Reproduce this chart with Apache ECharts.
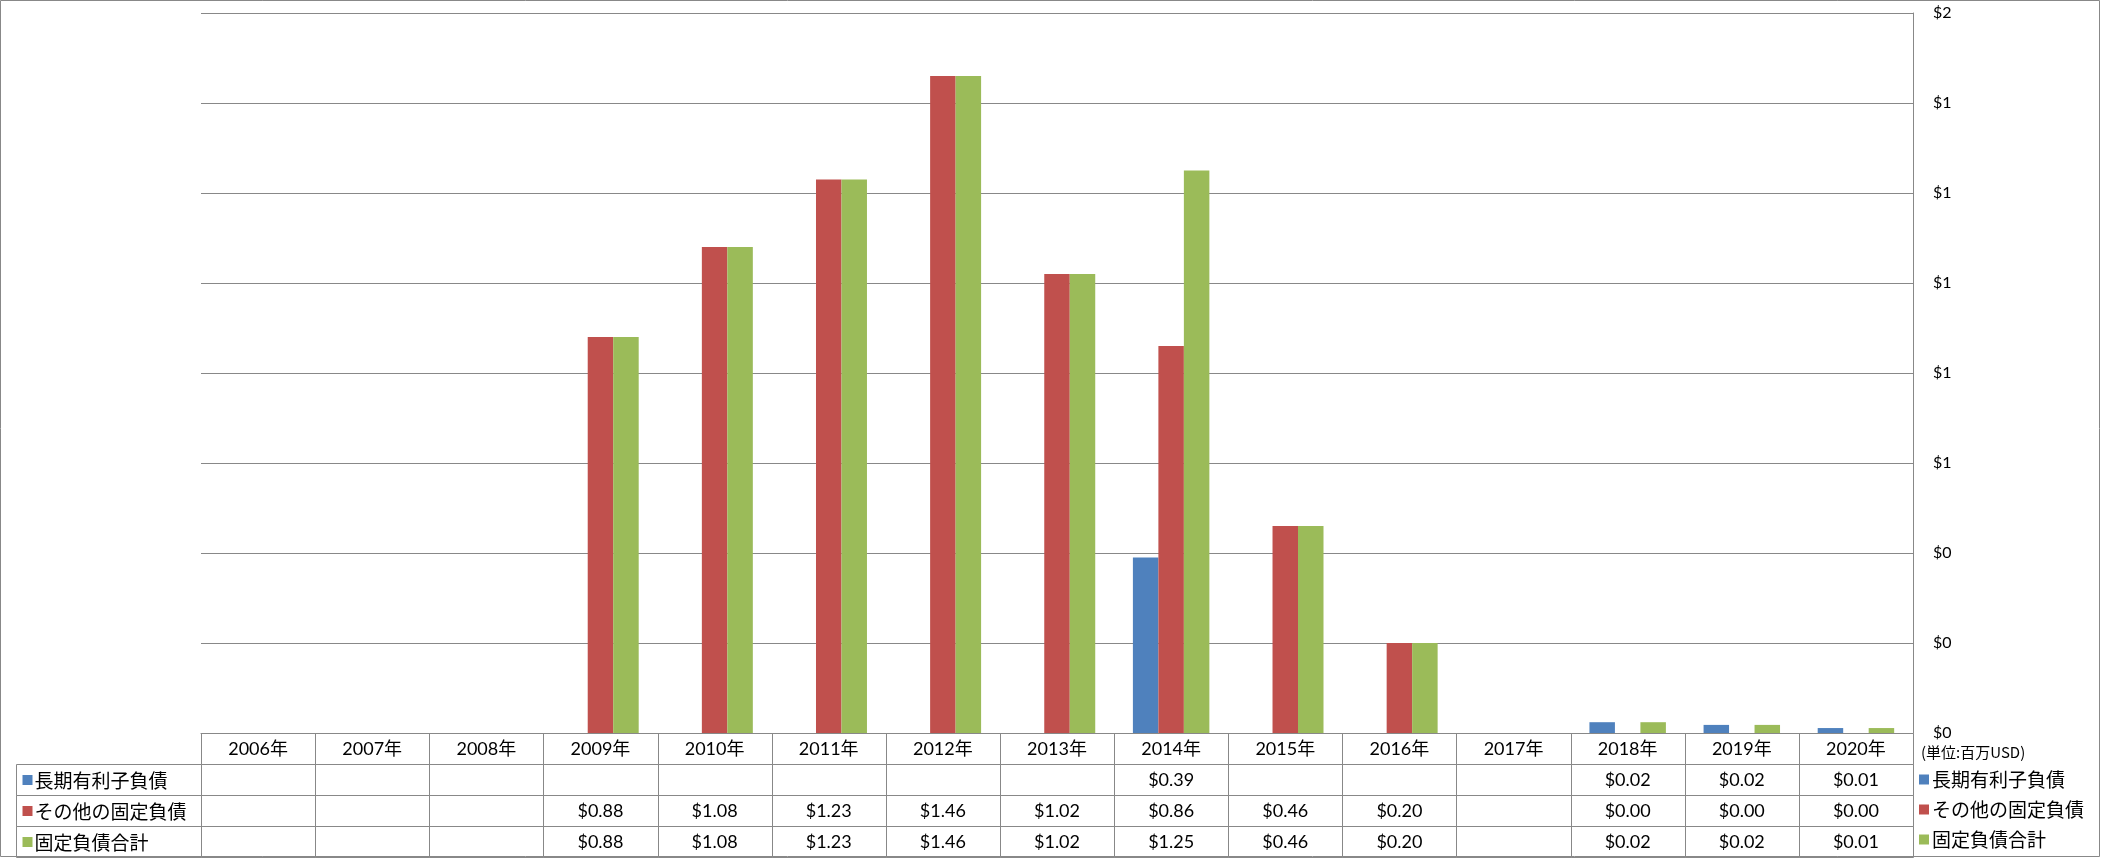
<!DOCTYPE html>
<html>
<head>
<meta charset="utf-8">
<script src="https://cdn.jsdelivr.net/npm/echarts@6/dist/echarts.min.js"></script>
<style>
html,body{margin:0;padding:0;background:#fff;}
#chart{width:2101px;height:858px;}
</style>
</head>
<body>
<div id="chart"></div>
<script>
// ---- data ----
const years = ['2006年','2007年','2008年','2009年','2010年','2011年','2012年','2013年','2014年','2015年','2016年','2017年','2018年','2019年','2020年'];
const seriesNames = ['長期有利子負債','その他の固定負債','固定負債合計'];
const longDebt  = [null,null,null,null,null,null,null,null,0.39,null,null,null,0.024,0.018,0.011];
const otherDebt = [null,null,null,0.88,1.08,1.23,1.46,1.02,0.86,0.46,0.20,null,0,0,0];
const totalDebt = [null,null,null,0.88,1.08,1.23,1.46,1.02,1.25,0.46,0.20,null,0.024,0.018,0.011];
const unitLabel = '(単位:百万USD)';
const yMin = 0, yMax = 1.6, yStep = 0.2;

// ---- styles ----
const colors = ['#4F81BD','#C0504D','#9BBB59'];
const lineColor = '#888888';
const numFont = 'Lato, "Noto Sans CJK JP", sans-serif';
const jpFont = '"Noto Sans CJK JP", sans-serif';
const fmtMoney = v => (v === null || v === undefined) ? '' : '$' + v.toFixed(2);

const allSeries = [longDebt, otherDebt, totalDebt];

// table cells: header row (years) + one row per series
const tableCells = [];
years.forEach((y, c) => {
  tableCells.push([c, 0, y]);
  allSeries.forEach((arr, s) => tableCells.push([c, s + 1, fmtMoney(arr[c])]));
});
const labelCells = seriesNames.map((n, i) => [0, i, n]);

function cellBox(api, c, r) {
  const p = api.coord([c, r]);
  const sz = api.size([1, 1]);
  const x0 = Math.round(p[0] - sz[0] / 2), x1 = Math.round(p[0] + sz[0] / 2);
  const y0 = Math.round(p[1] - sz[1] / 2), y1 = Math.round(p[1] + sz[1] / 2);
  return {p, x: x0 + 0.5, y: y0 + 0.5, width: x1 - x0, height: y1 - y0};
}

const chart = echarts.init(document.getElementById('chart'), null, {renderer: 'canvas'});

const option = {
  animation: false,
  backgroundColor: '#fff',
  title: {
    text: unitLabel, left: 1921, top: 745, padding: 0,
    textStyle: {fontSize: 15, fontWeight: 'normal', fontFamily: jpFont, color: '#000'}
  },
  legend: {
    orient: 'vertical', left: 1919, top: 770, padding: 0,
    itemWidth: 10, itemHeight: 10, itemGap: 11, icon: 'rect',
    data: seriesNames,
    textStyle: {fontSize: 19, fontFamily: jpFont, color: '#000', padding: [0,0,0,-2]}
  },
  graphic: [{
    type: 'rect', silent: true,
    shape: {x: 0.5, y: 0.5, width: 2099, height: 856},
    style: {fill: 'none', stroke: lineColor, lineWidth: 1}
  }],
  grid: [
    {left: 201, right: 188, top: 13, height: 720},
    {left: 201, right: 188, top: 733, height: 124},
    {left: 16, width: 185, top: 764, height: 93}
  ],
  xAxis: [
    {gridIndex: 0, type: 'category', data: years,
     axisLine: {show: true, lineStyle: {color: lineColor}}, axisTick: {show: false}, axisLabel: {show: false}},
    {gridIndex: 1, type: 'category', data: years, show: false},
    {gridIndex: 2, type: 'category', data: [''], show: false}
  ],
  yAxis: [
    {gridIndex: 0, type: 'value', position: 'right', min: yMin, max: yMax, interval: yStep,
     axisLine: {show: true, lineStyle: {color: lineColor}}, axisTick: {show: false},
     axisLabel: {margin: 20, fontSize: 16, fontFamily: numFont, color: '#000',
                 formatter: v => '$' + Math.round(v)},
     splitLine: {show: true, lineStyle: {color: lineColor, width: 1}}},
    {gridIndex: 1, type: 'category', data: ['h', 's1', 's2', 's3'], inverse: true, show: false},
    {gridIndex: 2, type: 'category', data: ['s1', 's2', 's3'], inverse: true, show: false}
  ],
  series: [
    ...seriesNames.map((name, i) => ({
      name, type: 'bar', xAxisIndex: 0, yAxisIndex: 0,
      data: allSeries[i], barGap: '0%', barCategoryGap: '33%',
      itemStyle: {color: colors[i]}
    })),
    {
      type: 'custom', xAxisIndex: 1, yAxisIndex: 1, silent: true,
      data: tableCells.map(d => [d[0], d[1]]),
      encode: {x: 0, y: 1},
      renderItem: (params, api) => {
        const cell = tableCells[params.dataIndex];
        const b = cellBox(api, cell[0], cell[1]);
        return {
          type: 'group',
          children: [
            {type: 'rect', shape: {x: b.x, y: b.y, width: b.width, height: b.height},
             style: {fill: 'none', stroke: lineColor, lineWidth: 1}},
            {type: 'text', style: {text: cell[2], x: b.p[0], y: b.p[1] + 1, align: 'center', verticalAlign: 'middle',
             fontSize: 18, fontFamily: numFont, fill: '#000'}}
          ]
        };
      }
    },
    {
      type: 'custom', xAxisIndex: 2, yAxisIndex: 2, silent: true,
      data: labelCells.map(d => [d[0], d[1]]),
      encode: {x: 0, y: 1},
      renderItem: (params, api) => {
        const cell = labelCells[params.dataIndex];
        const b = cellBox(api, cell[0], cell[1]);
        return {
          type: 'group',
          children: [
            {type: 'rect', shape: {x: b.x, y: b.y, width: b.width, height: b.height},
             style: {fill: 'none', stroke: lineColor, lineWidth: 1}},
            {type: 'rect', shape: {x: b.x + 6, y: Math.round(b.p[1]) - 5, width: 10, height: 10},
             style: {fill: colors[cell[1]]}},
            {type: 'text', style: {text: cell[2], x: b.x + 18, y: b.p[1] + 1, align: 'left', verticalAlign: 'middle',
             fontSize: 19, fontFamily: jpFont, fill: '#000'}}
          ]
        };
      }
    }
  ]
};
chart.setOption(option);
</script>
</body>
</html>
